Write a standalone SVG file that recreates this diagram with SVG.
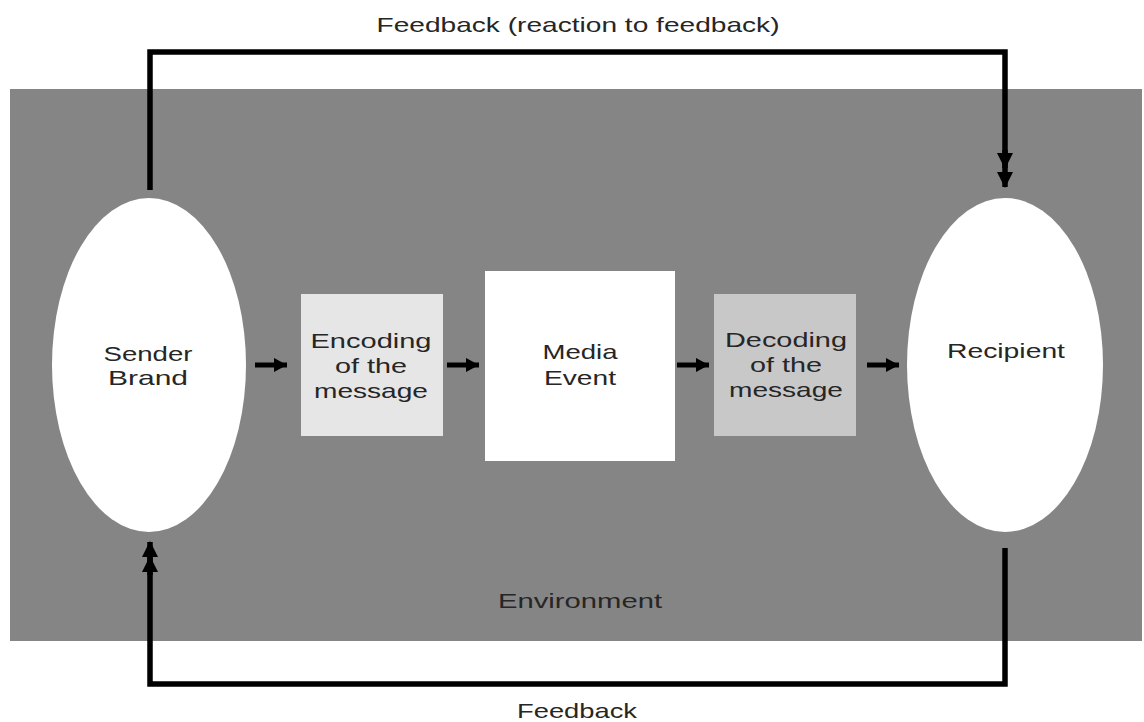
<svg xmlns="http://www.w3.org/2000/svg" width="1144" height="722" viewBox="0 0 1144 722">
  <style>
    .lbl { font-family: "Liberation Sans", "DejaVu Sans", sans-serif; font-size: 21px; fill: #262626; text-anchor: middle; }
    .fb { fill: none; stroke: #000; stroke-width: 5.5; stroke-linejoin: miter; }
    .step { stroke: #000; stroke-width: 5; }
  </style>
  <defs>
    <marker id="head" markerUnits="userSpaceOnUse" markerWidth="16" markerHeight="16" refX="15" refY="8" orient="auto">
      <path d="M0,0 L16,8 L0,16 Z" fill="#000"/>
    </marker>
    <marker id="small" markerUnits="userSpaceOnUse" markerWidth="13" markerHeight="14" refX="13" refY="7" orient="auto">
      <path d="M0,0 L13,7 L0,14 Z" fill="#000"/>
    </marker>
  </defs>

  <rect width="1144" height="722" fill="#ffffff"/>

  <!-- environment backdrop -->
  <g id="environment">
    <rect x="10" y="89" width="1132" height="552" fill="#858585"/>
    <text class="lbl" x="580" y="608" textLength="164" lengthAdjust="spacingAndGlyphs">Environment</text>
  </g>

  <g id="sender">
    <ellipse cx="149" cy="365" rx="97" ry="167" fill="#ffffff"/>
    <text class="lbl" x="148" y="361" textLength="89" lengthAdjust="spacingAndGlyphs">Sender</text>
    <text class="lbl" x="148" y="385" textLength="80" lengthAdjust="spacingAndGlyphs">Brand</text>
  </g>

  <g id="encoding">
    <rect x="301" y="294" width="142" height="142" fill="#e6e6e6"/>
    <text class="lbl" x="371" y="348" textLength="121" lengthAdjust="spacingAndGlyphs">Encoding</text>
    <text class="lbl" x="371" y="373" textLength="72" lengthAdjust="spacingAndGlyphs">of the</text>
    <text class="lbl" x="371" y="398" textLength="114" lengthAdjust="spacingAndGlyphs">message</text>
  </g>

  <g id="media">
    <rect x="485" y="271" width="190" height="190" fill="#ffffff"/>
    <text class="lbl" x="580" y="359" textLength="75" lengthAdjust="spacingAndGlyphs">Media</text>
    <text class="lbl" x="580" y="385" textLength="72" lengthAdjust="spacingAndGlyphs">Event</text>
  </g>

  <g id="decoding">
    <rect x="714" y="294" width="142" height="142" fill="#c8c8c8"/>
    <text class="lbl" x="786" y="347" textLength="122" lengthAdjust="spacingAndGlyphs">Decoding</text>
    <text class="lbl" x="786" y="372" textLength="72" lengthAdjust="spacingAndGlyphs">of the</text>
    <text class="lbl" x="786" y="397" textLength="114" lengthAdjust="spacingAndGlyphs">message</text>
  </g>

  <g id="recipient">
    <ellipse cx="1005" cy="365" rx="98" ry="167" fill="#ffffff"/>
    <text class="lbl" x="1006" y="358" textLength="118" lengthAdjust="spacingAndGlyphs">Recipient</text>
  </g>

  <g id="connectors">
    <!-- forward flow -->
    <line class="step" x1="255" y1="365" x2="287" y2="365" marker-end="url(#small)"/>
    <line class="step" x1="447" y1="365" x2="479" y2="365" marker-end="url(#small)"/>
    <line class="step" x1="677" y1="365" x2="709" y2="365" marker-end="url(#small)"/>
    <line class="step" x1="867" y1="365" x2="899" y2="365" marker-end="url(#small)"/>

    <!-- feedback loop over the top, double head -->
    <path class="fb" d="M150,190 V52 H1005 V187" marker-end="url(#head)"/>
    <path class="fb" d="M1005,150 V168" marker-end="url(#head)"/>
    <text class="lbl" x="578" y="32" textLength="403" lengthAdjust="spacingAndGlyphs">Feedback (reaction to feedback)</text>

    <!-- feedback loop underneath, double head -->
    <path class="fb" d="M1005,548 V684 H150 V542" marker-end="url(#head)"/>
    <path class="fb" d="M150,575 V557" marker-end="url(#head)"/>
    <text class="lbl" x="577" y="718" textLength="120" lengthAdjust="spacingAndGlyphs">Feedback</text>
  </g>
</svg>
